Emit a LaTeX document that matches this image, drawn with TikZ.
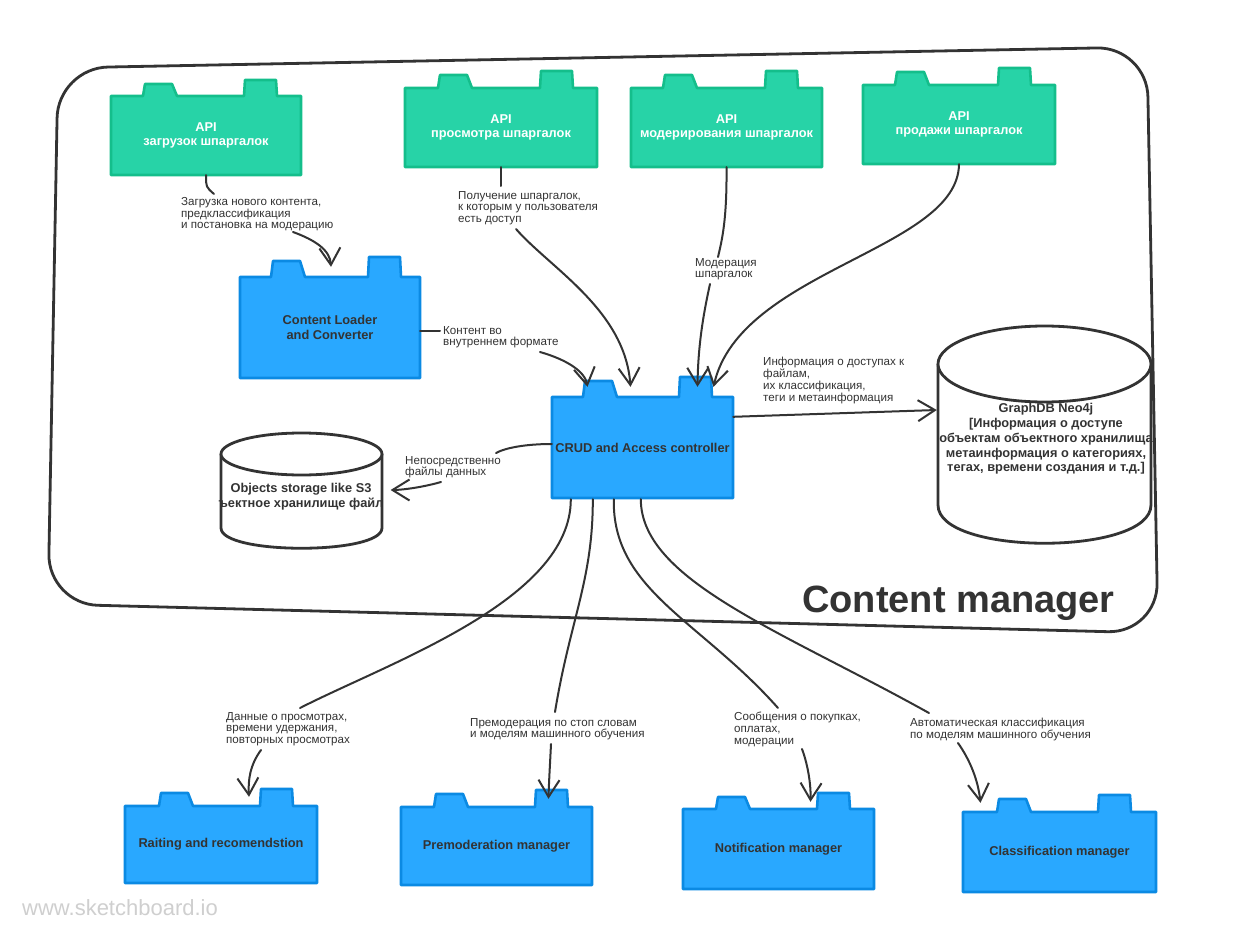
\documentclass[tikz,border=0pt]{standalone}
\usepackage{fontspec}
\setmainfont{Liberation Sans}
\usetikzlibrary{arrows.meta,calc}
\definecolor{dark}{HTML}{333333}
\definecolor{gfill}{HTML}{27D3A7}
\definecolor{gline}{HTML}{14BE8B}
\definecolor{bfill}{HTML}{29A8FF}
\definecolor{bline}{HTML}{0B8AE3}
\definecolor{wm}{HTML}{CFCFCF}
% #1 style, #2 name, #3 x1, #4 ytop, #5 x2, #6 ybot, #7 left tab x, #8 left tab top, #9 right tab x
\newcommand{\comp}[9]{%
  \draw[#1] (#3,#4) -- (#7,#4) -- (#7+2,#8) -- (#7+29,#8) -- (#7+34,#4) -- (#9,#4) -- (#9+1,#8-4) -- (#9+32,#8-4) -- (#9+33,#4) -- (#5,#4) -- (#5,#6) -- (#3,#6) -- cycle;
  \node[#1text, minimum width={(#5-#3)*1pt}, minimum height={(#6-#4)*1pt}] (#2) at ({(#3+#5)/2},{(#4+#6)/2})}
\begin{document}
\begin{tikzpicture}[x=1pt,y=-1pt,
  greenbox/.style={draw=gline, fill=gfill, line width=2.6pt, line join=round},
  bluebox/.style={draw=bline, fill=bfill, line width=2.6pt, line join=round},
  greenboxtext/.style={text=white, font=\fontsize{12.8}{14.8}\selectfont\bfseries, align=center, inner sep=0pt},
  blueboxtext/.style={text=dark, font=\fontsize{12.8}{14.8}\selectfont\bfseries, align=center, inner sep=0pt},
  cyl/.style={draw=dark, fill=white, line width=2.8pt, line join=round},
  cyltext/.style={text=dark, font=\fontsize{12.8}{14.8}\selectfont\bfseries, align=center, inner sep=0pt},
  conn/.style={draw=dark, line width=2pt, line cap=round, line join=round},
  arr/.style={conn, -{Straight Barb[length=17pt,width=21pt]}},
  lbl/.style={text=dark, font=\fontsize{11.6}{11.8}\selectfont, align=left, inner sep=0pt, anchor=north west},
  container/.style={draw=dark, line width=2.8pt, rounded corners=50pt},
]
\fill[white] (0,0) rectangle (1254,939);
\useasboundingbox (0,0) rectangle (1254,939);

% container
\draw[container] (58,68) -- (1147,47) -- (1158,633) -- (48,604) -- cycle;
\node[anchor=base west, text=dark, font=\fontsize{38}{38}\selectfont\bfseries, inner sep=0pt] (title) at (802,612) {Content manager};

% API components
\comp{greenbox}{api1}{111}{96}{301}{175}{143}{84}{244} {API\\загрузок шпаргалок};
\comp{greenbox}{api2}{405}{88}{597}{167}{438}{75}{540} {API\\просмотра шпаргалок};
\comp{greenbox}{api3}{631}{88}{822}{167}{663}{75}{765} {API\\модерирования шпаргалок};
\comp{greenbox}{api4}{863}{85}{1055}{164}{895}{72}{998} {API\\продажи шпаргалок};

% inner components
\comp{bluebox}{loader}{240}{277}{420}{378}{271}{261}{368} {Content Loader\\and Converter};
\comp{bluebox}{crud}{552}{397}{733}{498}{583}{381}{679} {CRUD and Access controller};

% bottom components
\comp{bluebox}{raiting}{125}{806}{317}{883}{159}{793}{260} {Raiting and recomendstion};
\comp{bluebox}{premod}{401}{807}{592}{885}{434}{794}{535} {Premoderation manager};
\comp{bluebox}{notif}{683}{809}{874}{889}{716}{797}{817} {Notification manager};
\comp{bluebox}{classif}{963}{812}{1156}{892}{997}{799}{1098} {Classification manager};

% object storage cylinder
\draw[cyl] (221,454) -- (221,528) .. controls (221,555) and (382,555) .. (382,528) -- (382,454);
\draw[cyl] (301.5,454) ellipse [x radius=80.5, y radius=21];
\node[cyltext] (objs) at (301,497) {Objects storage like S3\\ъектное хранилище файл};

% graphdb cylinder
\draw[cyl] (938,364) -- (938,505) .. controls (938,556) and (1151,556) .. (1151,505) -- (1151,364);
\draw[cyl] (1044.5,364) ellipse [x radius=106.5, y radius=38];
\node[cyltext, minimum width=214pt] (gdb) at (1046,439) {GraphDB Neo4j\\{}[Информация о доступе\\объектам объектного хранилища\\метаинформация о категориях,\\тегах, времени создания и т.д.]};

% labels
\node[lbl] (l1) at (181,197) {Загрузка нового контента,\\предклассификация\\и постановка на модерацию};
\node[lbl] (l2) at (458,191) {Получение шпаргалок,\\к которым у пользователя\\есть доступ};
\node[lbl] (l3) at (695,258) {Модерация\\шпаргалок};
\node[lbl] (l4) at (443,326) {Контент во\\внутреннем формате};
\node[lbl] (l5) at (405,456) {Непосредственно\\файлы данных};
\node[lbl] (l6) at (763,357) {Информация о доступах к\\файлам,\\их классификация,\\теги и метаинформация};
\node[lbl] (l7) at (226,712) {Данные о просмотрах,\\времени удержания,\\повторных просмотрах};
\node[lbl] (l8) at (470,718) {Премодерация по стоп словам\\и моделям машинного обучения};
\node[lbl] (l9) at (734,712) {Сообщения о покупках,\\оплатах,\\модерации};
\node[lbl] (l10) at (910,718) {Автоматическая классификация\\по моделям машинного обучения};

% connector end points near labels
\coordinate (c1a) at (214,194);  \coordinate (c1b) at (293,232);
\coordinate (c2a) at (501,186);  \coordinate (c2b) at (516,229);
\coordinate (c3a) at (718,257);  \coordinate (c3b) at (710,284);
\coordinate (c5a) at (440,331);  \coordinate (c5b) at (540,352);
\coordinate (c6a) at (496,453);  \coordinate (c6b) at (441,482);
\coordinate (c8a) at (300,708);  \coordinate (c8b) at (261,750);
\coordinate (c9a) at (555,712);  \coordinate (c9b) at (551,744);
\coordinate (c10a) at (778,708); \coordinate (c10b) at (802,749);
\coordinate (c11a) at (929,713); \coordinate (c11b) at (958,743);

% connectors
\draw[conn] (api1.south) .. controls (206,187) .. (c1a);
\draw[arr] (c1b) .. controls (315,240) and (330,250) .. ($(loader.north)+(1,-10)$);

\draw[conn] (api2.south) -- (c2a);
\draw[arr] (c2b) .. controls (550,268) and (625,310) .. ($(crud.north)+(-12,-10)$);

\draw[conn] (api3.south) .. controls (727,220) and (722,240) .. (c3a);
\draw[arr] (c3b) .. controls (702,320) and (698,350) .. ($(crud.north)+(55,-10)$);

\draw[arr] (api4.south) .. controls (958,250) and (740,270) .. ($(crud.north)+(71,-10)$);

\draw[conn] ($(loader.east)+(0,3.5)$) -- (c5a);
\draw[arr] (c5b) .. controls (568,360) and (585,372) .. ($(crud.north)+(-55,-10)$);

\draw[conn] ($(crud.west)+(0,-3.5)$) .. controls (525,444) and (505,448) .. (c6a);
\draw[arr] (c6b) .. controls (420,488) and (400,490) .. ($(objs.east)+(7,-7)$);

\draw[arr] ($(crud.north east)+(0,20)$) -- ($(gdb.west)+(-2,-29)$);

\draw[conn] ($(crud.south west)+(19,1)$) .. controls (571,600) and (390,662) .. (c8a);
\draw[arr] (c8b) .. controls (250,765) and (248,780) .. ($(raiting.north)+(28,-9)$);

\draw[conn] ($(crud.south west)+(41,1)$) .. controls (593,580) and (570,620) .. (c9a);
\draw[arr] (c9b) .. controls (550,765) and (549,780) .. ($(premod.north)+(52,-8)$);

\draw[conn] ($(crud.south west)+(62,1)$) .. controls (612,590) and (700,620) .. (c10a);
\draw[arr] (c10b) .. controls (808,765) and (811,785) .. ($(notif.north)+(32,-7)$);

\draw[conn] ($(crud.south west)+(89,1)$) .. controls (641,580) and (780,630) .. (c11a);
\draw[arr] (c11b) .. controls (970,760) and (978,780) .. ($(classif.north)+(-79,-9)$);

% watermark
\node[anchor=base west, text=wm, font=\fontsize{22}{22}\selectfont, inner sep=0pt] (wmark) at (22,915) {www.sketchboard.io};
\end{tikzpicture}
\end{document}
